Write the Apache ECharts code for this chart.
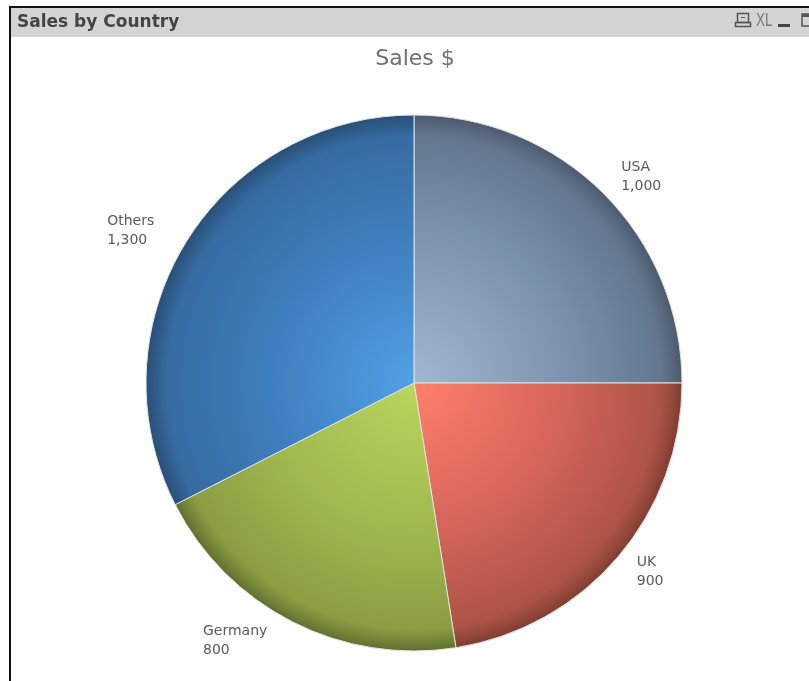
<!DOCTYPE html>
<html>
<head>
<meta charset="utf-8">
<style>html,body{margin:0;padding:0;background:#fff}#c{width:809px;height:681px}</style>
<script src="https://cdn.jsdelivr.net/npm/echarts@6/dist/echarts.min.js"></script>
</head>
<body>
<div id="c"></div>
<script>
const categories = ['USA', 'UK', 'Germany', 'Others'];
const salesValues = [1000, 900, 800, 1300];
const captionText = 'Sales by Country';
const chartTitle = 'Sales $';
const shadeStops = [0, 0.55, 0.92, 0.97, 1];
const usaShades = ['#a1b7d1', '#7d94b0', '#64778f', '#56667b', '#4c5a6e'];
const ukShades = ['#ff7f6c', '#d5655a', '#ad5446', '#934739', '#803c30'];
const germanyShades = ['#bad65c', '#a0b850', '#8a9e42', '#728338', '#606e2d'];
const othersShades = ['#51a0e6', '#3f7ebd', '#376ca2', '#2d5a87', '#285078'];
const shades = [usaShades, ukShades, germanyShades, othersShades];

const cx = 414, cy = 383, radius = 268;
const grad = (cols) => ({
  type: 'radial', x: cx, y: cy, r: radius, global: true,
  colorStops: cols.map((c, i) => ({ offset: shadeStops[i], color: c }))
});
const nf = (v) => v.toLocaleString('en-US');
const labelNudges = [{ dx: 0, dy: 1 }, { dx: 0, dy: -1.5 }, { dx: -18, dy: -3 }, { dx: 3, dy: 1 }];

const chart = echarts.init(document.getElementById('c'), null, { renderer: 'canvas' });
chart.setOption({
  animation: false,
  backgroundColor: '#ffffff',
  title: {
    text: chartTitle, left: 410, top: 43, textAlign: 'center',
    textStyle: { fontFamily: 'DejaVu Sans', fontSize: 22, fontWeight: 'normal', color: '#6f6f6f' }
  },
  series: [{
    type: 'pie',
    center: [cx, cy],
    radius: [0, radius],
    startAngle: 90,
    clockwise: true,
    avoidLabelOverlap: false,
    labelLine: { show: false, length: 25, length2: 0 },
    label: {
      show: true, position: 'outside', distanceToLabelLine: 0,
      formatter: (p) => `{t|${p.name}}\n{t|${nf(p.value)}}`,
      rich: { t: { fontFamily: 'DejaVu Sans', fontSize: 14, lineHeight: 19, color: '#5a5a5a', width: 60, align: 'left' } }
    },
    labelLayout: (p) => labelNudges[p.dataIndex],
    itemStyle: { borderColor: '#e2e2e2', borderWidth: 1 },
    data: categories.map((n, i) => ({ name: n, value: salesValues[i], itemStyle: { color: grad(shades[i]) } }))
  }],
  graphic: [
    { type: 'rect', shape: { x: 9, y: 7, width: 800, height: 30 }, style: { fill: '#d4d4d4' }, z: 1 },
    { type: 'rect', shape: { x: 9, y: 6, width: 800, height: 2 }, style: { fill: '#111111' }, z: 2 },
    { type: 'rect', shape: { x: 9, y: 6, width: 2, height: 675 }, style: { fill: '#111111' }, z: 2 },
    { type: 'text', x: 17, y: 14, z: 3, style: { text: captionText, font: 'bold 17px "DejaVu Sans"', fill: '#444444' } },
    { type: 'rect', shape: { x: 737.5, y: 13.5, width: 11, height: 9 }, style: { fill: 'none', stroke: '#555', lineWidth: 1.5 }, z: 3 },
    { type: 'rect', shape: { x: 735.5, y: 22.5, width: 15, height: 4 }, style: { fill: 'none', stroke: '#555', lineWidth: 1.5 }, z: 3 },
    { type: 'rect', shape: { x: 741, y: 17, width: 4, height: 1 }, style: { fill: '#555' }, z: 3 },
    { type: 'text', x: 756, y: 12, scaleX: 0.75, z: 3, style: { text: 'XL', font: '18px "Liberation Sans"', fill: '#777777' } },
    { type: 'rect', shape: { x: 778, y: 24, width: 12, height: 3 }, style: { fill: '#444' }, z: 3 },
    { type: 'rect', shape: { x: 802, y: 14, width: 10, height: 12 }, style: { fill: 'none', stroke: '#555', lineWidth: 1.5 }, z: 3 },
    { type: 'rect', shape: { x: 802, y: 14, width: 10, height: 3 }, style: { fill: '#555' }, z: 3 }
  ]
});
</script>
</body>
</html>
